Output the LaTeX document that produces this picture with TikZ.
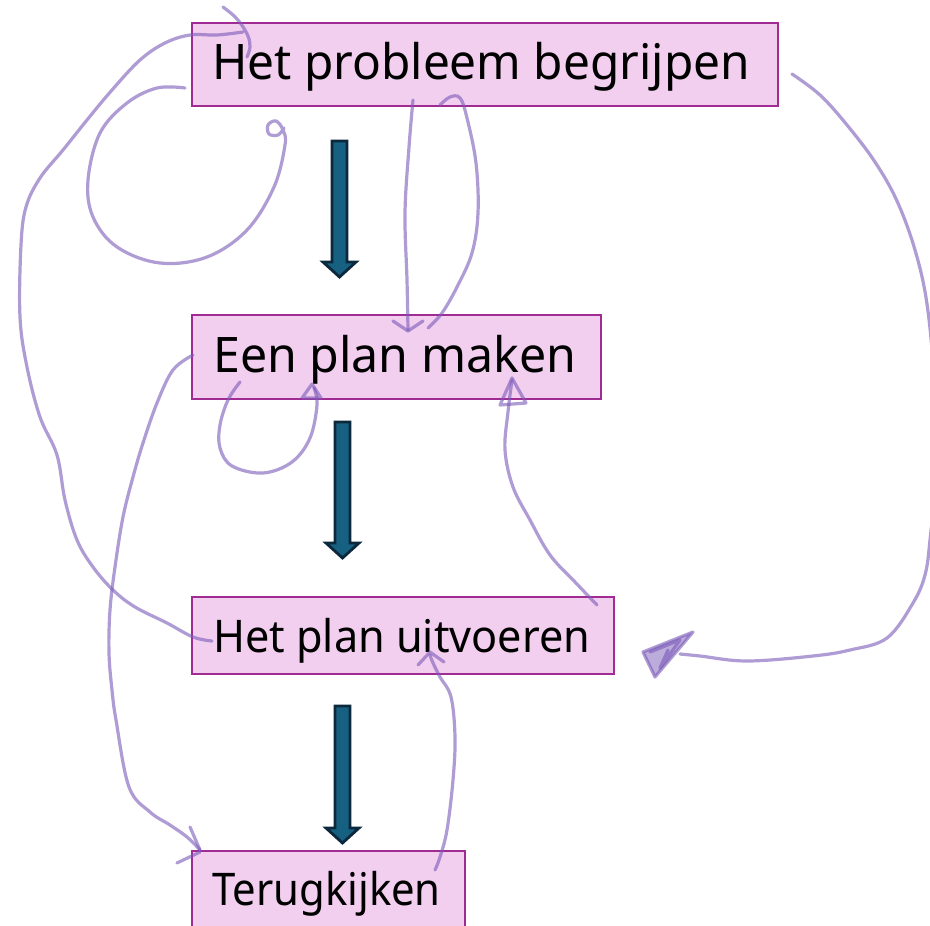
\documentclass[tikz,border=0pt]{standalone}
\usepackage{fontspec}
\setmainfont{Noto Sans}
\definecolor{boxfill}{RGB}{242,206,239}
\definecolor{boxline}{RGB}{160,43,147}
\definecolor{arrfill}{RGB}{22,96,130}
\definecolor{arrline}{RGB}{12,40,60}
\definecolor{pen}{RGB}{122,90,185}
\newcommand\myblockarrow[3]{%
  \draw[blockarrow] ({#1-7.5},{#2}) -- ({#1+7.5},{#2}) -- ({#1+7.5},{#3-15}) -- ({#1+16.5},{#3-15})
    -- ({#1},{#3}) -- ({#1-16.5},{#3-15}) -- ({#1-7.5},{#3-15}) -- cycle;}
\begin{document}
\begin{tikzpicture}[x=1pt,y=-1pt,
  stepbox/.style={draw=boxline, line width=1.8pt, fill=boxfill, anchor=north west, inner sep=0pt},
  lbl/.style={anchor=base west, inner sep=0pt, text=black},
  bigtxt/.style={lbl, font=\fontsize{49}{58}\selectfont},
  smalltxt/.style={lbl, font=\fontsize{45}{54}\selectfont},
  blockarrow/.style={fill=arrfill, draw=arrline, line width=2.8pt, line join=miter},
  pencil/.style={draw=pen, opacity=0.6, line width=3.2pt, line cap=round, line join=round},
  pencilfill/.style={pencil, fill=pen, fill opacity=0.5}]
\useasboundingbox (0,0) rectangle (930,926);
\clip (0,0) rectangle (930,926);
\fill[white] (0,0) rectangle (930,926);

% boxes
\node[stepbox, minimum width=586pt, minimum height=83pt] (p1) at (191,22) {};
\node[stepbox, minimum width=409pt, minimum height=84pt] (p2) at (191,314) {};
\node[stepbox, minimum width=422pt, minimum height=77pt] (p3) at (191,596) {};
\node[stepbox, minimum width=273pt, minimum height=80pt] (p4) at (191,850) {};

\node[bigtxt] (t1) at (212,79) {\scalebox{0.975}[1]{Het probleem begrijpen}};
\node[bigtxt] (t2) at (213,372) {\scalebox{0.985}[1]{Een plan maken}};
\node[smalltxt] (t3) at (213,652) {\scalebox{0.96}[1]{Het plan uitvoeren}};
\node[smalltxt] (t4) at (212,905) {\scalebox{0.93}[1]{Terugkijken}};

% block arrows
\myblockarrow{339.5}{141}{277}
\myblockarrow{342.5}{422}{558}
\myblockarrow{342.5}{706}{843}

% hand-drawn connectors
% A: p3 left -> p1 top-left
\draw[pencil] plot[smooth, tension=0.6] coordinates {(223,7) (233,15) (241,24) (248,36) (250,47) (247,57)};
\draw[pencil] plot[smooth, tension=0.6] coordinates {(243,32) (217,35) (190,35) (165,43) (140,60) (112,90) (87,120) (63,150) (40,178) (26,207) (21,245) (20,317) (27,367) (40,417) (57,455) (65,500) (77,540) (93,567) (113,590) (135,607) (167,623) (193,637) (212,641)};
% B: p1 self loop
\draw[pencil] plot[smooth, tension=0.6] coordinates {(185,88) (157,88) (127,103) (100,133) (88,180) (93,217) (117,247) (160,263) (207,257) (247,230) (274,187) (285,145) (283,130) (276,121) (268,125) (269,134) (278,135) (284,128)};
% C and D: p1 -> p2
\draw[pencil] plot[smooth, tension=0.6] coordinates {(413,100) (409,147) (405,213) (407,280) (408,330)};
\draw[pencil] (393,321) -- (408,331) -- (423,321);
\draw[pencil] plot[smooth, tension=0.6] coordinates {(440,105) (450,97) (460,98) (467,118) (476,163) (478,213) (472,253) (457,287) (442,313) (428,328)};
% E: p2 self loop
\draw[pencil] plot[smooth, tension=0.6] coordinates {(240,382) (228,400) (220,425) (220,448) (232,466) (263,473) (292,462) (310,438) (317,405) (314,388)};
\draw[pencil] (302,398) -- (312,384) -- (321,398) -- cycle;
% F: p3 -> p2
\draw[pencil] plot[smooth, tension=0.6] coordinates {(597,605) (575,582) (550,555) (530,520) (513,487) (505,450) (508,412) (512,380)};
\draw[pencil] (500,405) -- (512,378) -- (526,403) -- cycle;
% G: p1 right -> p3 right
\draw[pencil] plot[smooth, tension=0.6] coordinates {(792,74) (820,95) (847,125) (875,162) (897,201) (915,250) (927,304) (934,380) (936,470) (930,540) (925,575) (913,603) (887,638) (850,650) (813,656) (747,661) (700,656) (680,654)};
\draw[pencilfill] (643,652) -- (693,632) -- (655,677) -- cycle;
\draw[pencil] (650,652) -- (680,640) -- (660,668) -- (668,650);
% H: p2 left -> p4
\draw[pencil] plot[smooth, tension=0.6] coordinates {(193,355) (173,370) (157,403) (143,443) (133,477) (123,517) (115,567) (110,610) (109,653) (112,690) (116,720) (129,787) (150,812) (170,825) (187,837) (200,850)};
\draw[pencil] (190,827) -- (200,850);
\draw[pencil] (177,863) -- (200,852);
% I: p4 -> p3
\draw[pencil] plot[smooth, tension=0.6] coordinates {(435,870) (440,857) (447,830) (453,780) (455,737) (451,697) (440,677) (433,663) (430,655)};
\draw[pencil] (418,665) -- (430,652) -- (444,662);
\end{tikzpicture}
\end{document}
